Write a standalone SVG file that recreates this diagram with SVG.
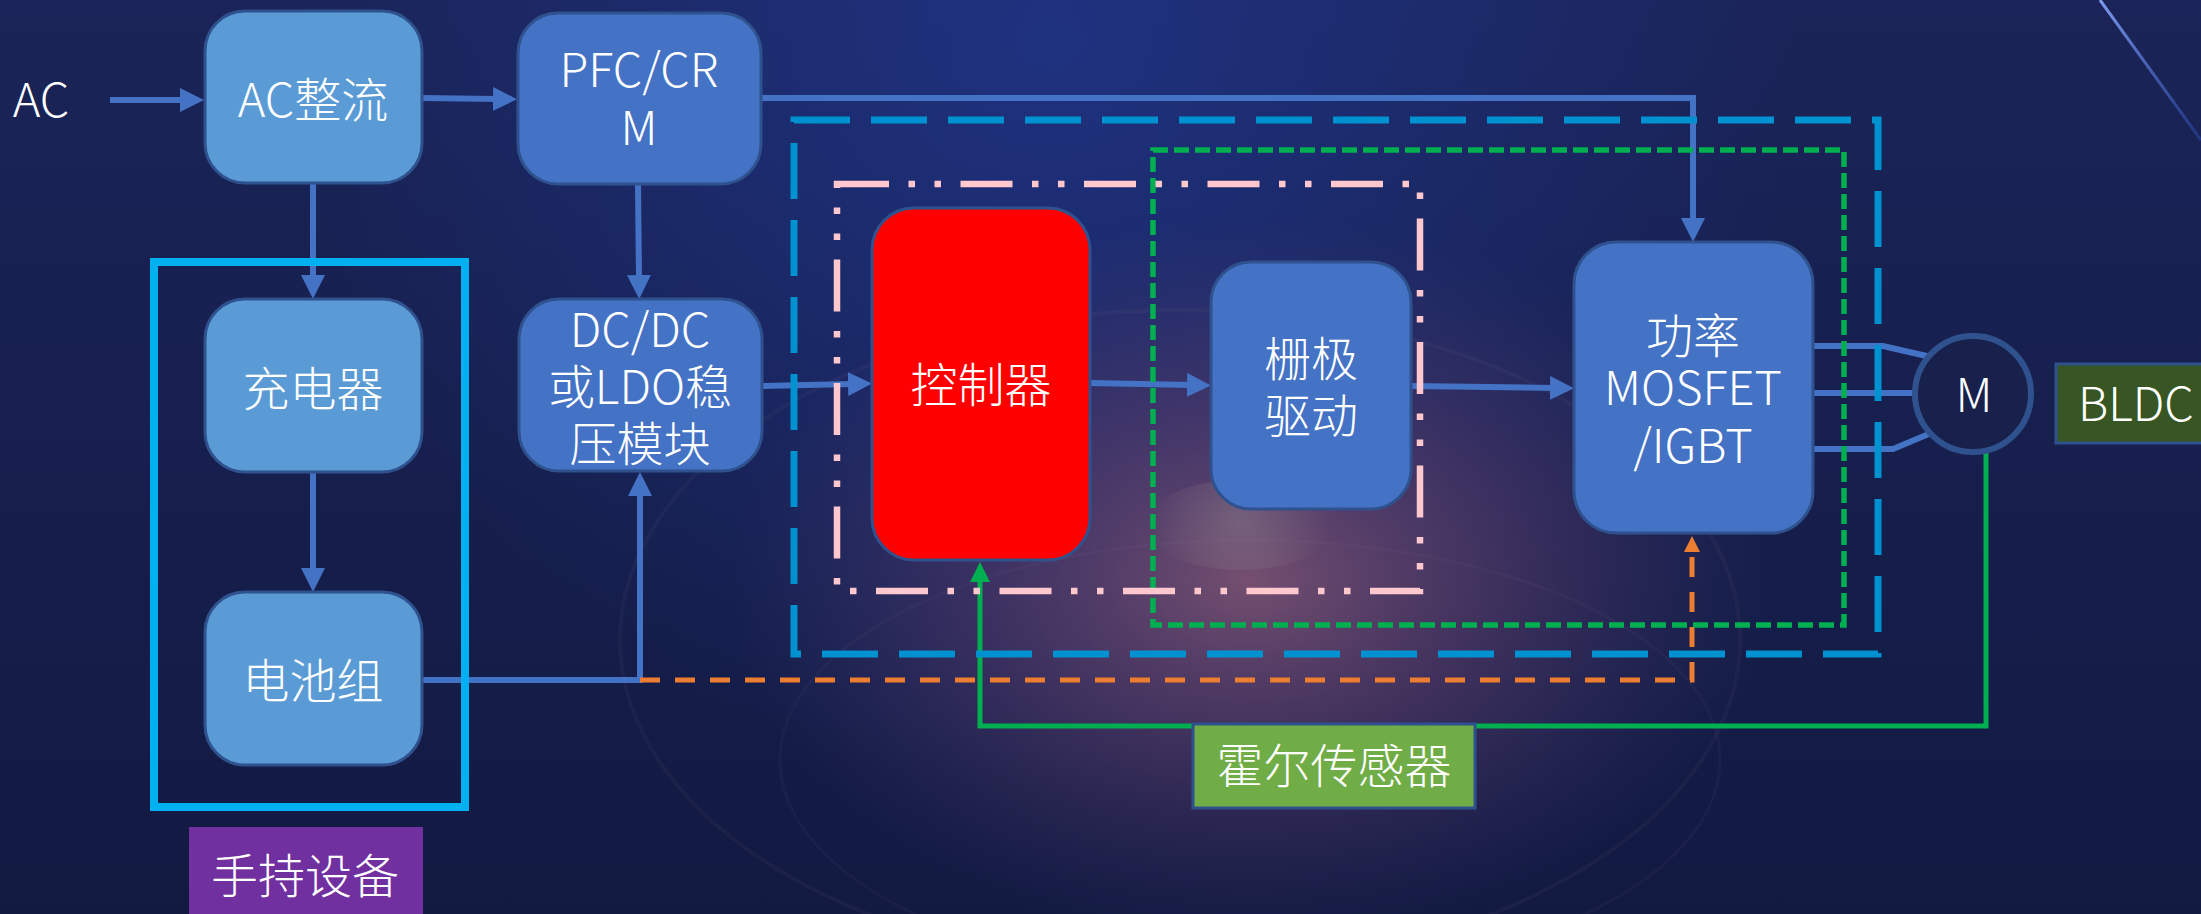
<svg xmlns="http://www.w3.org/2000/svg" width="2201" height="914" viewBox="0 0 2201 914">
<defs>
<linearGradient id="bg" x1="0" y1="0" x2="0" y2="1">
<stop offset="0" stop-color="#1a2458"/>
<stop offset="1" stop-color="#121a42"/>
</linearGradient>
<radialGradient id="blueGlow" cx="1050" cy="40" r="750" gradientUnits="userSpaceOnUse">
<stop offset="0" stop-color="#2440a8" stop-opacity="0.5"/>
<stop offset="1" stop-color="#2440a8" stop-opacity="0"/>
</radialGradient>
<radialGradient id="purpleGlow" cx="1250" cy="580" r="520" gradientUnits="userSpaceOnUse" gradientTransform="translate(1250 580) scale(1 0.7) translate(-1250 -580)">
<stop offset="0" stop-color="#8c5a76" stop-opacity="0.8"/>
<stop offset="0.5" stop-color="#6a4470" stop-opacity="0.45"/>
<stop offset="1" stop-color="#4a3a70" stop-opacity="0"/>
</radialGradient>
<radialGradient id="dome" cx="1240" cy="520" r="90" gradientUnits="userSpaceOnUse">
<stop offset="0" stop-color="#8a7c8a" stop-opacity="0.5"/>
<stop offset="1" stop-color="#8a7c8a" stop-opacity="0"/>
</radialGradient>
<linearGradient id="streak" x1="0" y1="0" x2="1" y2="1">
<stop offset="0" stop-color="#8aa8ff" stop-opacity="0.9"/>
<stop offset="1" stop-color="#3050c0" stop-opacity="0.4"/>
</linearGradient>
<marker id="arrB" markerUnits="userSpaceOnUse" viewBox="0 0 24 24" markerWidth="24" markerHeight="24" refX="4" refY="12" orient="auto">
<path d="M0,0 L24,12 L0,24 z" fill="#4472C4"/>
</marker>
<marker id="arrO" markerUnits="userSpaceOnUse" viewBox="0 0 16 16" markerWidth="16" markerHeight="16" refX="2" refY="8" orient="auto">
<path d="M0,0 L16,8 L0,16 z" fill="#ED7D31"/>
</marker>
<marker id="arrG" markerUnits="userSpaceOnUse" viewBox="0 0 20 20" markerWidth="20" markerHeight="20" refX="2" refY="10" orient="auto">
<path d="M0,0 L20,10 L0,20 z" fill="#00B050"/>
</marker>
<style>
.t{font-family:"Noto Sans CJK SC","Noto Sans",sans-serif;font-size:47px;font-weight:300;fill:#ffffff;text-anchor:middle}
.lb{fill:#5B9BD5;stroke:#2F528F;stroke-width:3}
.db{fill:#4472C4;stroke:#2F528F;stroke-width:3}
.c{fill:none;stroke:#4472C4;stroke-width:6}
</style>
</defs>

<g id="background">
<rect width="2201" height="914" fill="url(#bg)"/>
<rect width="2201" height="914" fill="url(#blueGlow)"/>
<rect width="2201" height="914" fill="url(#purpleGlow)"/>
<ellipse cx="1240" cy="525" rx="95" ry="45" fill="url(#dome)"/>
<ellipse cx="1180" cy="640" rx="560" ry="330" fill="none" stroke="#b08aa0" stroke-opacity="0.06" stroke-width="4"/>
<ellipse cx="1250" cy="760" rx="470" ry="220" fill="none" stroke="#a08aa8" stroke-opacity="0.05" stroke-width="3"/>
<line x1="2100" y1="0" x2="2201" y2="140" stroke="url(#streak)" stroke-width="3"/>
</g>

<g id="connectors">
<line class="c" x1="110" y1="100" x2="184" y2="100" marker-end="url(#arrB)"/>
<line class="c" x1="422" y1="98" x2="497" y2="99" marker-end="url(#arrB)"/>
<line class="c" x1="313" y1="183" x2="313" y2="279" marker-end="url(#arrB)"/>
<line class="c" x1="313" y1="472" x2="313" y2="572" marker-end="url(#arrB)"/>
<line class="c" x1="638" y1="184" x2="639" y2="279" marker-end="url(#arrB)"/>
<path class="c" d="M422,680 H640 V492" marker-end="url(#arrB)"/>
<line class="c" x1="762" y1="386" x2="852" y2="384" marker-end="url(#arrB)"/>
<line class="c" x1="1090" y1="383" x2="1191" y2="385" marker-end="url(#arrB)"/>
<line class="c" x1="1411" y1="386" x2="1554" y2="388" marker-end="url(#arrB)"/>
<path class="c" d="M761,98 H1693 V222" marker-end="url(#arrB)"/>
<path d="M640,680 H1692 V550" fill="none" stroke="#ED7D31" stroke-width="5" stroke-dasharray="20 15" marker-end="url(#arrO)"/>
<path d="M1986,450 V726 H980 V580" fill="none" stroke="#00B050" stroke-width="5" marker-end="url(#arrG)"/>
<path class="c" d="M1813,346 H1883 L1931,357"/>
<path class="c" d="M1813,393 H1914"/>
<path class="c" d="M1813,449 H1893 L1931,433"/>
</g>

<g id="frame-power" fill="none">
<rect x="794" y="120" width="1084" height="534" stroke="#0091D0" stroke-width="7" stroke-dasharray="56 21"/>
</g>
<g id="frame-driver" fill="none">
<rect x="1153" y="150" width="691" height="475" stroke="#00B050" stroke-width="5.5" stroke-dasharray="15 6"/>
</g>
<g id="frame-controller" fill="none">
<rect x="837" y="184" width="583" height="407" stroke="#FFC7CE" stroke-width="6.5" stroke-dasharray="52 19.5 6.5 19.5 6.5 19.5"/>
</g>
<g id="frame-handheld" fill="none">
<rect x="154" y="262" width="311" height="545" stroke="#00B0F0" stroke-width="8"/>
</g>

<g id="node-ac">
<text class="t" x="41" y="117">AC</text>
</g>
<g id="node-rectifier">
<rect class="lb" x="205" y="11" width="217" height="172" rx="40"/>
<text class="t" x="313" y="117">AC整流</text>
</g>
<g id="node-pfc">
<rect class="db" x="518" y="13" width="243" height="171" rx="40"/>
<text class="t" x="639" y="87">PFC/CR<tspan x="639" dy="58">M</tspan></text>
</g>
<g id="node-charger">
<rect class="lb" x="205" y="299" width="217" height="173" rx="40"/>
<text class="t" x="313" y="406">充电器</text>
</g>
<g id="node-battery">
<rect class="lb" x="205" y="592" width="217" height="173" rx="40"/>
<text class="t" x="313" y="698">电池组</text>
</g>
<g id="node-dcdc">
<rect class="db" x="519" y="299" width="243" height="172" rx="40"/>
<text class="t" x="640" y="347">DC/DC<tspan x="640" dy="57">或LDO稳</tspan><tspan x="640" dy="57">压模块</tspan></text>
</g>
<g id="node-controller">
<rect x="872" y="208" width="218" height="352" rx="42" fill="#FF0000" stroke="#2F528F" stroke-width="3"/>
<text class="t" x="981" y="402">控制器</text>
</g>
<g id="node-gate">
<rect class="db" x="1211" y="262" width="200" height="247" rx="40"/>
<text class="t" x="1311" y="376">栅极<tspan x="1311" dy="57">驱动</tspan></text>
</g>
<g id="node-power">
<rect class="db" x="1574" y="242" width="239" height="291" rx="42"/>
<text class="t" x="1693" y="353">功率<tspan x="1693" dy="52">MOSFET</tspan><tspan x="1693" dy="58">/IGBT</tspan></text>
</g>
<g id="node-motor">
<circle cx="1973" cy="394" r="58" fill="#18214c" stroke="#2F528F" stroke-width="6"/>
<text class="t" x="1974" y="412">M</text>
</g>
<g id="node-bldc">
<rect x="2056" y="364" width="150" height="79" fill="#375623" stroke="#2F528F" stroke-width="3"/>
<text class="t" x="2078" y="421" style="text-anchor:start">BLDC</text>
</g>
<g id="node-hall">
<rect x="1193" y="724" width="282" height="84" fill="#70AD47" stroke="#2F528F" stroke-width="3"/>
<text class="t" x="1334" y="783">霍尔传感器</text>
</g>
<g id="node-handheld-label">
<rect x="189" y="827" width="234" height="90" fill="#7030A0"/>
<text class="t" x="305" y="893">手持设备</text>
</g>
</svg>
